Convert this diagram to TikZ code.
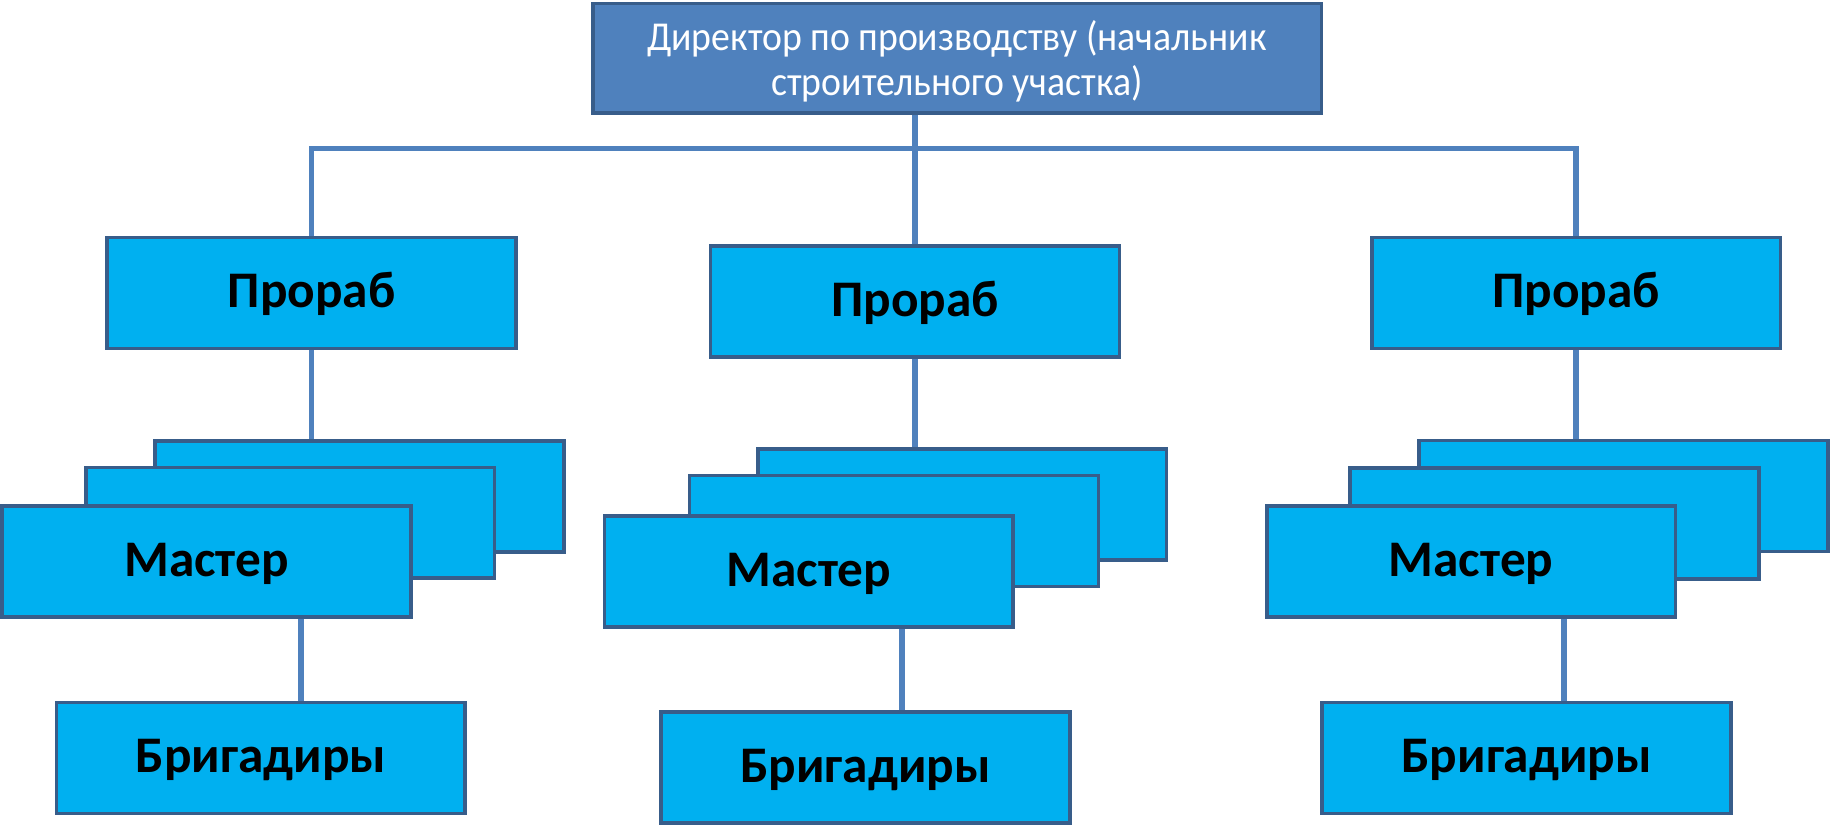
\documentclass[tikz,border=0pt]{standalone}
\usepackage{fontspec}
\setmainfont{Carlito}
\newfontfamily\narrowfont[FakeStretch=0.92]{Carlito}
\usetikzlibrary{calc, positioning}
\definecolor{hdr}{HTML}{4F81BD}
\definecolor{rim}{HTML}{385D8A}
\definecolor{cy}{HTML}{00B0F0}
\begin{document}
\begin{tikzpicture}[x=0.01cm, y=-0.01cm,
 boss/.style={draw=rim, fill=hdr, line width=0.9pt, minimum width=6.24cm, minimum height=0.94cm, inner sep=0pt, text=white, align=center, text height=20.4pt, text depth=2.5pt, font=\narrowfont\fontsize{10}{10.8}\selectfont},
 blk/.style={draw=rim, fill=cy, line width=0.9pt, minimum width=3.5cm, minimum height=0.95cm, inner sep=0pt, text height=0.82em, text depth=0.1em, font=\fontsize{12.5}{15}\selectfont\bfseries},
 ln/.style={draw=hdr, line width=1.3pt}]
\useasboundingbox (0,0) rectangle (1568,709);
\node[boss] (d) at (820,50) {Директор по производству (начальник\\строительного участка)};
\node[blk] (p1) at (267,251) {Прораб};
\node[blk] (p2) at (784,258.5) {Прораб};
\node[blk] (p3) at (1350.5,251) {Прораб};
% stacks of masters
\node[blk] (m1c) at (308,425.5) {};
\node[blk] (m1b) at (248.5,448) {};
\node[blk] (m1) at (177,481) {Мастер};
\node[blk] (m2c) at (824.5,432.5) {};
\node[blk] (m2b) at (766,455) {};
\node[blk] (m2) at (693,489.5) {Мастер};
\node[blk] (m3c) at (1391,425) {};
\node[blk] (m3b) at (1332,448.5) {};
\node[blk] (m3) at (1260.5,481) {Мастер};
\node[blk] (b1) at (223.5,649.5) {Бригадиры};
\node[blk] (b2) at (741.5,657.5) {Бригадиры};
\node[blk] (b3) at (1308,649.5) {Бригадиры};
\coordinate (bus) at (0,127);
\coordinate (k1) at (258,0);
\coordinate (k2) at (773,0);
\coordinate (k3) at (1340,0);
\draw[ln] (p1.north) -- (p1.north |- bus) -- (p3.north |- bus) -- (p3.north);
\draw[ln] (d.south -| p2.north) -- (p2.north);
\draw[ln] (p1.south) -- (m1c.north -| p1.south);
\draw[ln] (p2.south) -- (m2c.north -| p2.south);
\draw[ln] (p3.south) -- (m3c.north -| p3.south);
\draw[ln] (m1.south -| k1) -- (b1.north -| k1);
\draw[ln] (m2.south -| k2) -- (b2.north -| k2);
\draw[ln] (m3.south -| k3) -- (b3.north -| k3);
\end{tikzpicture}
\end{document}
